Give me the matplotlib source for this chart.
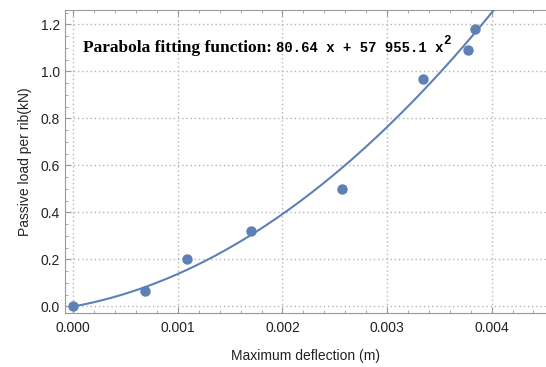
import numpy as np
import matplotlib
matplotlib.use("Agg")
import matplotlib.pyplot as plt
from matplotlib.ticker import MultipleLocator

# measured points (deflection m, load kN)
deflection = [0.0, 0.00069, 0.00109, 0.0017, 0.00257, 0.00334, 0.003775, 0.00384]
load = [0.0, 0.065, 0.202, 0.323, 0.50, 0.968, 1.091, 1.181]

# parabola fit coefficients
a1 = 80.64
a2 = 57955.1

blue = "#5E81B5"
gray = "#999999"

plt.rcParams["font.family"] = ["Liberation Sans", "DejaVu Sans"]

fig = plt.figure(figsize=(5.46, 3.67), dpi=100)
ax = fig.add_axes([0.119, 0.147, 0.881, 0.826])

xs = np.linspace(0, 0.0045, 300)
ax.plot(xs, a1 * xs + a2 * xs ** 2, color=blue, lw=1.5, zorder=3)
ax.plot(deflection, load, "o", color=blue, ms=6.5, zorder=4)

ax.set_xlim(-0.00008, 0.00452)
ax.set_ylim(-0.028, 1.262)

ax.xaxis.set_major_locator(MultipleLocator(0.001))
ax.xaxis.set_minor_locator(MultipleLocator(0.0002))
ax.yaxis.set_major_locator(MultipleLocator(0.2))
ax.yaxis.set_minor_locator(MultipleLocator(0.05))
ax.xaxis.set_major_formatter(plt.FuncFormatter(lambda v, p: "%.3f" % v))
ax.yaxis.set_major_formatter(plt.FuncFormatter(lambda v, p: "%.1f" % v))

ax.tick_params(which="both", direction="in", top=True, right=False,
               color=gray, labelsize=10, labelcolor="#222222")
ax.tick_params(which="major", length=4, width=0.8)
ax.tick_params(which="minor", length=2.5, width=0.6)
ax.tick_params(axis="x", pad=6)
for side in ["left", "bottom", "top"]:
    ax.spines[side].set_color(gray)
ax.spines["right"].set_visible(False)

ax.grid(True, which="major", color="#b5b5b5", ls=(0, (1, 2)), lw=1)

ax.set_xlabel("Maximum deflection (m)", fontsize=10, color="#222222", labelpad=10)
ax.set_ylabel("Passive load per rib(kN)", fontsize=10, color="#222222", labelpad=6)

t1 = ax.text(0.00009, 1.098, "Parabola fitting function: ", fontsize=12.5,
             family="Liberation Serif", weight="bold", va="center")
t2 = ax.annotate("80.64 x + 57 955.1 x", xy=(1, 0.08), xycoords=t1, va="bottom",
                 fontsize=10, family="Liberation Mono", weight="bold")
ax.annotate("2", xy=(1, 0.55), xycoords=t2, va="bottom",
            fontsize=9, family="Liberation Mono", weight="bold")

fig.savefig("out.png", dpi=100)
